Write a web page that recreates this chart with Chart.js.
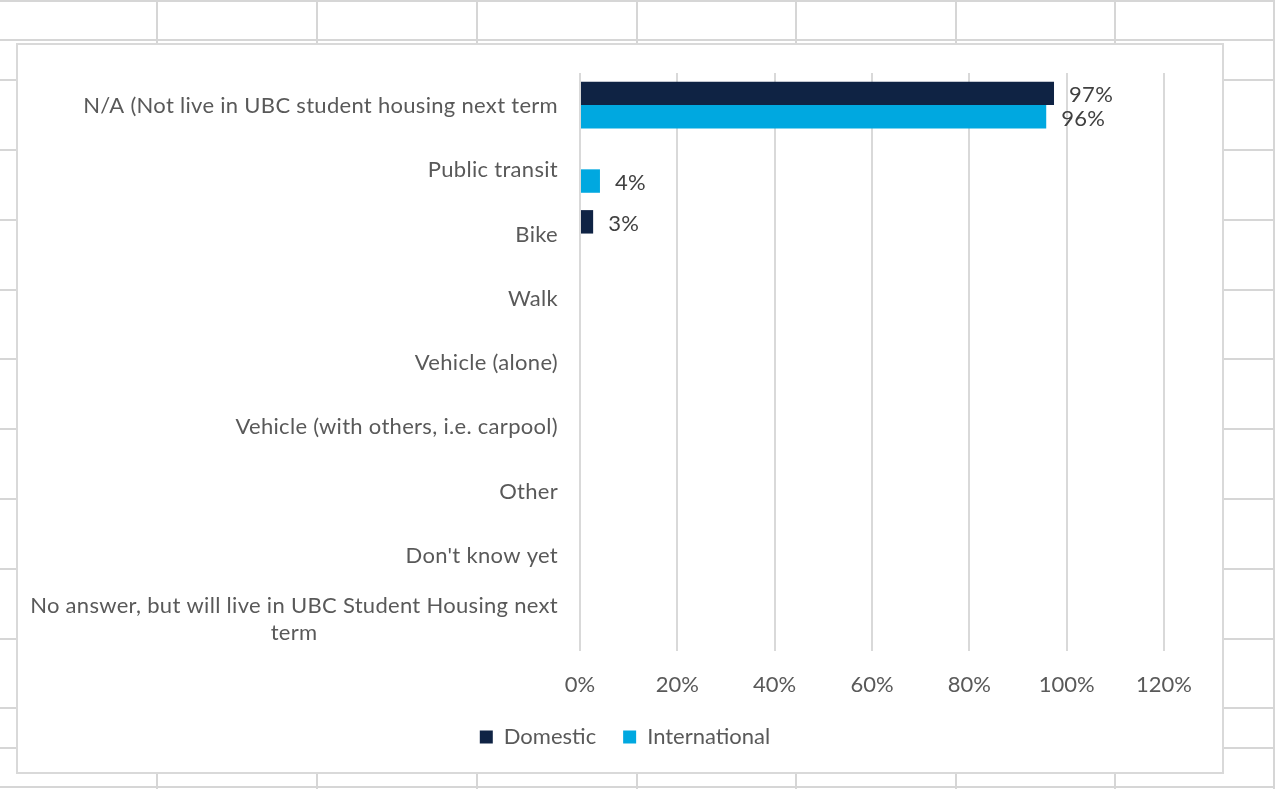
<!DOCTYPE html>
<html>
<head>
<meta charset="utf-8">
<script src="https://cdn.jsdelivr.net/npm/chart.js@4/dist/chart.umd.min.js"></script>
<style>
  html, body { margin: 0; padding: 0; background: #ffffff; }
  #wrap { position: relative; width: 1275px; height: 789px; }
  canvas { display: block; }
</style>
</head>
<body>
<div id="wrap"><canvas id="c" width="1275" height="789"></canvas></div>
<script>
// ---- data ----
const categories = [
  "N/A (Not live in UBC student housing next term",
  "Public transit",
  "Bike",
  "Walk",
  "Vehicle (alone)",
  "Vehicle (with others, i.e. carpool)",
  "Other",
  "Don't know yet",
  ["No answer, but will live in UBC Student Housing next", "term"]
];
const domesticValues = [97.4, 0, 2.7, 0, 0, 0, 0, 0, 0];
const internationalValues = [95.8, 4.1, 0, 0, 0, 0, 0, 0, 0];
const seriesNames = ["Domestic", "International"];
const xTickValues = [0, 20, 40, 60, 80, 100, 120];

// ---- styles ----
const FONT = "Lato, 'Open Sans', sans-serif";
const FSIZE = 22;
const FWEIGHT = "400";
const TEXT = "#595959";
const NAVY = "#0f2344";
const CYAN = "#00a8e0";
const SPACING = "0.3px";

// spreadsheet background + chart box
const sheetPlugin = {
  id: "sheet",
  beforeInit(chart) { chart.ctx.letterSpacing = SPACING; },
  beforeDraw(chart) {
    const ctx = chart.ctx;
    ctx.save();
    ctx.fillStyle = "#ffffff";
    ctx.fillRect(0, 0, chart.width, chart.height);
    ctx.strokeStyle = "#d6d6d6";
    ctx.lineWidth = 2;
    const rows = [1, 40, 80, 150, 220, 290, 359, 429, 499, 569, 639, 708, 748, 787];
    const cols = [157, 317, 477, 637, 796, 956, 1115, 1274];
    ctx.beginPath();
    rows.forEach(y => { ctx.moveTo(0, y); ctx.lineTo(chart.width, y); });
    cols.forEach(x => { ctx.moveTo(x, 0); ctx.lineTo(x, chart.height); });
    ctx.stroke();
    ctx.fillStyle = "#ffffff";
    ctx.fillRect(17, 44, 1206, 729);
    ctx.strokeStyle = "#d9d9d9";
    ctx.lineWidth = 2;
    ctx.strokeRect(17, 44, 1206, 729);
    ctx.restore();
  }
};

// category labels drawn at the y-scale's tick positions (multi-line block centred, right aligned)
const catLabelPlugin = {
  id: "catLabels",
  afterDraw(chart) {
    const y = chart.scales.y;
    const ctx = chart.ctx;
    ctx.save();
    ctx.letterSpacing = SPACING;
    ctx.font = FWEIGHT + " " + FSIZE + "px " + FONT;
    ctx.fillStyle = TEXT;
    ctx.textBaseline = "middle";
    ctx.textAlign = "center";
    const right = y.right - 22;
    const lh = 27;
    chart.data.labels.forEach((lab, i) => {
      const lines = Array.isArray(lab) ? lab : [lab];
      const w = Math.max(...lines.map(l => ctx.measureText(l).width));
      const cx = right - w / 2;
      const cy = y.getPixelForTick(i) + 1;
      const y0 = cy - (lines.length - 1) * lh / 2;
      lines.forEach((l, k) => ctx.fillText(l, cx, y0 + k * lh));
    });
    ctx.restore();
  }
};

// value labels at bar ends (rounded to whole percent)
const valueLabelPlugin = {
  id: "valueLabels",
  afterDatasetsDraw(chart) {
    const ctx = chart.ctx;
    ctx.save();
    ctx.letterSpacing = SPACING;
    ctx.font = FWEIGHT + " " + FSIZE + "px " + FONT;
    ctx.fillStyle = "#404040";
    ctx.textAlign = "left";
    ctx.textBaseline = "middle";
    chart.data.datasets.forEach((ds, di) => {
      const meta = chart.getDatasetMeta(di);
      meta.data.forEach((bar, i) => {
        const v = ds.data[i];
        if (!v) return;
        ctx.fillText(Math.round(v) + "%", bar.x + 15, bar.y + 2);
      });
    });
    ctx.restore();
  }
};

new Chart(document.getElementById("c"), {
  type: "bar",
  data: {
    labels: categories,
    datasets: [
      { label: seriesNames[0], data: domesticValues, backgroundColor: NAVY, borderWidth: 0,
        categoryPercentage: 0.73, barPercentage: 1.0 },
      { label: seriesNames[1], data: internationalValues, backgroundColor: CYAN, borderWidth: 0,
        categoryPercentage: 0.73, barPercentage: 1.0 }
    ]
  },
  options: {
    indexAxis: "y",
    responsive: false,
    animation: false,
    devicePixelRatio: 1,
    layout: { padding: { left: 86, right: 111, top: 73, bottom: 31 } },
    scales: {
      x: {
        min: 0, max: 120,
        afterBuildTicks(scale) { scale.ticks = xTickValues.map(v => ({ value: v })); },
        afterFit(scale) { scale.height = 48; },
        ticks: {
          callback: v => v + "%",
          font: { family: FONT, size: FSIZE, weight: FWEIGHT },
          color: TEXT,
          padding: 21,
          maxRotation: 0
        },
        grid: { color: "#d9d9d9", lineWidth: 2, drawTicks: false },
        border: { display: false }
      },
      y: {
        ticks: { display: false },
        afterFit(scale) { scale.width = 494; },
        grid: { display: false },
        border: { display: false }
      }
    },
    plugins: {
      legend: {
        position: "bottom",
        labels: {
          font: { family: FONT, size: FSIZE, weight: FWEIGHT },
          color: TEXT,
          boxWidth: 13,
          boxHeight: 13,
          padding: 27
        }
      },
      tooltip: { enabled: false }
    }
  },
  plugins: [sheetPlugin, catLabelPlugin, valueLabelPlugin]
});
</script>
</body>
</html>
